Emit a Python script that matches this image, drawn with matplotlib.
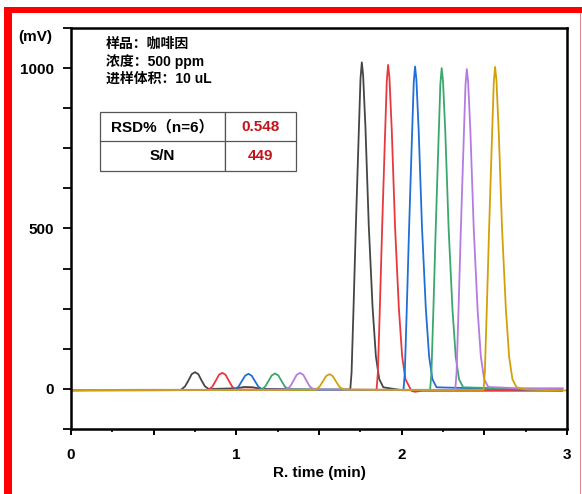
"""
Caffeine repeatability chromatogram: six overlaid injections, each shifted in time.
"""

import matplotlib

matplotlib.use("Agg")
import matplotlib.pyplot as plt
from matplotlib.patches import Rectangle
from matplotlib.ticker import FuncFormatter, MultipleLocator

# --- data (time in min, signal in mV) ---
run1_time = [0.0, 0.30, 0.60, 0.665, 0.69, 0.71, 0.73, 0.75, 0.77, 0.79, 0.81, 0.835, 0.87,
             1.00, 1.05, 1.10, 1.15, 1.40, 1.689, 1.697, 1.709, 1.723, 1.739, 1.751, 1.759,
             1.767, 1.781, 1.801, 1.824, 1.844, 1.864, 1.889, 2.00, 2.97]
run1_mv = [-4, -3, -3, -3, 8, 26, 46, 52, 46, 26, 8, -1, 0,
           2, 6, 5, 0, -2, -2, 51, 255, 509, 774, 967, 1018,
           977, 814, 509, 255, 102, 31, 5, -4, -5]

run2_time = [0.0, 0.40, 0.83, 0.855, 0.875, 0.895, 0.915, 0.935, 0.955, 0.975, 1.00,
             1.50, 1.848, 1.856, 1.868, 1.882, 1.898, 1.910, 1.918, 1.926, 1.940, 1.960,
             1.983, 2.003, 2.023, 2.048, 2.06, 2.08, 2.12, 2.97]
run2_mv = [-4, -3, -3, 7, 25, 44, 50, 44, 25, 7, -2,
           -3, -3, 50, 252, 505, 768, 960, 1010, 970, 808, 505,
           252, 101, 30, 5, -6, -9, -6, -5]

run3_time = [0.0, 0.50, 0.988, 1.013, 1.033, 1.053, 1.073, 1.093, 1.113, 1.133, 1.158,
             1.60, 2.011, 2.019, 2.031, 2.045, 2.061, 2.073, 2.081, 2.089, 2.103, 2.123,
             2.146, 2.166, 2.186, 2.211, 2.97]
run3_mv = [-4, -4, -3, 7, 24, 41, 47, 41, 24, 7, -2,
           -3, -3, 50, 251, 503, 764, 955, 1005, 965, 804, 503,
           251, 101, 30, 5, -5]

run4_time = [0.0, 0.60, 1.149, 1.174, 1.194, 1.214, 1.234, 1.254, 1.274, 1.294, 1.319,
             1.80, 2.172, 2.180, 2.192, 2.206, 2.222, 2.234, 2.242, 2.250, 2.264, 2.284,
             2.307, 2.327, 2.347, 2.372, 2.97]
run4_mv = [-5, -4, -3, 7, 24, 42, 48, 42, 24, 7, -2,
           -3, -3, 50, 250, 500, 760, 950, 1000, 960, 800, 500,
           250, 100, 30, 5, -4]

run5_time = [0.0, 0.70, 1.300, 1.325, 1.345, 1.365, 1.385, 1.405, 1.425, 1.445, 1.470,
             1.90, 2.324, 2.332, 2.344, 2.358, 2.374, 2.386, 2.394, 2.402, 2.416, 2.436,
             2.459, 2.479, 2.499, 2.524, 2.70, 2.975]
run5_mv = [-4, -3, -3, 7, 25, 44, 50, 44, 25, 7, -2,
           -3, -3, 50, 249, 499, 758, 947, 997, 957, 798, 499,
           249, 100, 30, 6, 2, 2]

run6_time = [0.0, 0.80, 1.478, 1.503, 1.523, 1.543, 1.563, 1.583, 1.603, 1.623, 1.648,
             2.00, 2.495, 2.503, 2.515, 2.529, 2.545, 2.557, 2.565, 2.573, 2.587, 2.607,
             2.630, 2.650, 2.670, 2.695, 2.75, 3.0]
run6_mv = [-4, -3, -3, 7, 23, 40, 46, 40, 23, 7, -2,
           -3, -3, 50, 251, 502, 763, 954, 1004, 964, 803, 502,
           251, 100, 30, 5, -2, -5]

run_times = [run1_time, run2_time, run3_time, run4_time, run5_time, run6_time]
run_signals = [run1_mv, run2_mv, run3_mv, run4_mv, run5_mv, run6_mv]
run_colors = ["#454545", "#e8383d", "#1f6fd6", "#3aa76d", "#b57be0", "#d4a00a"]

info_lines = ["样品：咖啡因", "浓度：500 ppm", "进样体积：10 uL"]
table_labels = ["RSD%（n=6）", "S/N"]
table_values = ["0.548", "449"]

plt.rcParams["font.family"] = ["Liberation Sans", "Noto Sans CJK SC", "DejaVu Sans"]
plt.rcParams["font.weight"] = "bold"

W, H = 582, 494
fig = plt.figure(figsize=(W / 100, H / 100), dpi=100)
ax = fig.add_axes([71 / W, 1 - 429 / H, 496 / W, 401 / H])

for t, mv, c in zip(run_times, run_signals, run_colors):
    ax.plot(t, mv, color=c, lw=1.3, solid_joinstyle="round")

ax.set_xlim(0, 3)
ax.set_ylim(-125, 1125)

ax.xaxis.set_major_locator(MultipleLocator(0.5))
ax.xaxis.set_minor_locator(MultipleLocator(0.25))
ax.xaxis.set_major_formatter(FuncFormatter(lambda v, p: f"{v:.0f}" if abs(v - round(v)) < 1e-6 else ""))
ax.yaxis.set_major_locator(MultipleLocator(125))
ax.yaxis.set_major_formatter(FuncFormatter(lambda v, p: f"{v:.0f}" if round(v) % 500 == 0 else ""))

ax.tick_params(axis="x", which="major", length=4.5, width=1.4, pad=9, labelsize=11)
ax.tick_params(axis="x", which="minor", length=2, width=1.2)
ax.tick_params(axis="y", which="major", length=6, width=1.3, pad=6, labelsize=11)
for s in ax.spines.values():
    s.set_linewidth(1.8)

ax.set_xlabel("R. time (min)", fontsize=11, fontweight="bold", labelpad=3)
fig.text(18 / W, 1 - 36.5 / H, "(mV)", fontsize=11, fontweight="bold", ha="left", va="center")

for i, line in enumerate(info_lines):
    fig.text(106 / W, 1 - (44 + 17.5 * i) / H, line, fontsize=10, fontweight="bold",
             ha="left", va="center")

# summary table
x0, x1 = (100 - 71) / 496, (296 - 71) / 496
y0, y1 = (429 - 171) / 401, (429 - 112) / 401
tbl = ax.table(cellText=[[lab, val] for lab, val in zip(table_labels, table_values)],
               colWidths=[125 / 196, 71 / 196], cellLoc="center",
               bbox=[x0, y0, x1 - x0, y1 - y0])
tbl.auto_set_font_size(False)
for (r, c), cell in tbl.get_celld().items():
    cell.set_edgecolor("#555555")
    cell.set_linewidth(0.9)
    cell.get_text().set_fontsize(11)
    cell.get_text().set_fontweight("bold")
    if c == 1:
        cell.get_text().set_color("#c0151b")

# red frame around the picture
fig.patches.append(Rectangle((4 / W, 0), 8 / W, 1 - 7 / H, transform=fig.transFigure,
                             facecolor="#ff0000", edgecolor="none"))
fig.patches.append(Rectangle((4 / W, 1 - 13 / H), 1 - 4 / W, 6 / H, transform=fig.transFigure,
                             facecolor="#ff0000", edgecolor="none"))
fig.patches.append(Rectangle((580 / W, 0), 1.2 / W, 1 - 13 / H, transform=fig.transFigure,
                             facecolor="#e08a8a", edgecolor="none"))

fig.savefig("out.png", dpi=100)
